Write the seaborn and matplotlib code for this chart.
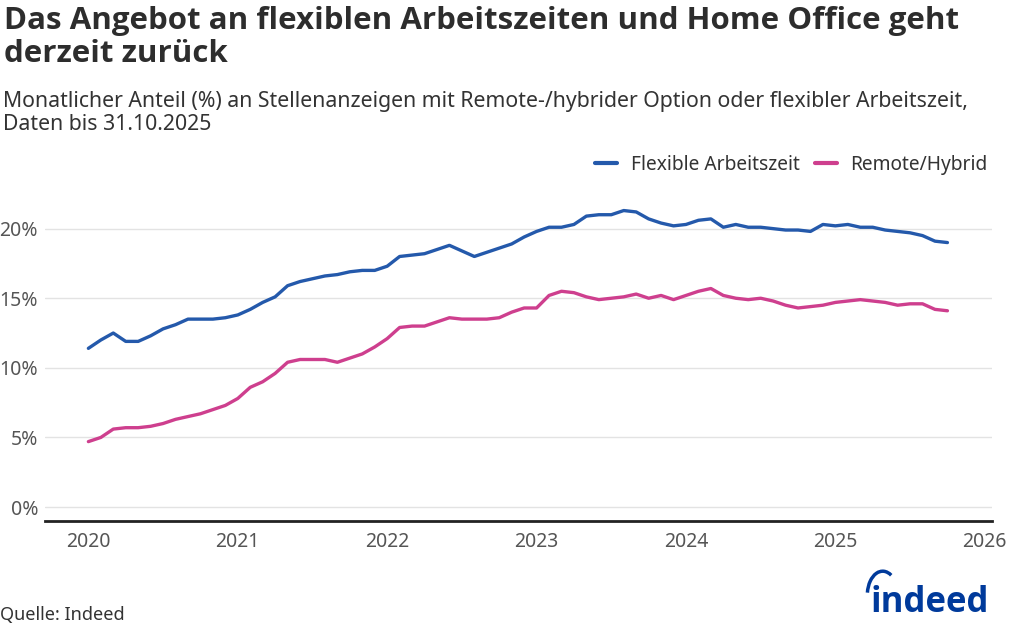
import numpy as np
import pandas as pd
import matplotlib
matplotlib.use("Agg")
import matplotlib.pyplot as plt
from matplotlib.patches import Arc
import seaborn as sns

# monthly values, Jan 2020 - Oct 2025
flexible = [11.4, 12.0, 12.5, 11.9, 11.9, 12.3, 12.8, 13.1, 13.5, 13.5, 13.5, 13.6,
            13.8, 14.2, 14.7, 15.1, 15.9, 16.2, 16.4, 16.6, 16.7, 16.9, 17.0, 17.0,
            17.3, 18.0, 18.1, 18.2, 18.5, 18.8, 18.4, 18.0, 18.3, 18.6, 18.9, 19.4,
            19.8, 20.1, 20.1, 20.3, 20.9, 21.0, 21.0, 21.3, 21.2, 20.7, 20.4, 20.2,
            20.3, 20.6, 20.7, 20.1, 20.3, 20.1, 20.1, 20.0, 19.9, 19.9, 19.8, 20.3,
            20.2, 20.3, 20.1, 20.1, 19.9, 19.8, 19.7, 19.5, 19.1, 19.0]
remote = [4.7, 5.0, 5.6, 5.7, 5.7, 5.8, 6.0, 6.3, 6.5, 6.7, 7.0, 7.3,
          7.8, 8.6, 9.0, 9.6, 10.4, 10.6, 10.6, 10.6, 10.4, 10.7, 11.0, 11.5,
          12.1, 12.9, 13.0, 13.0, 13.3, 13.6, 13.5, 13.5, 13.5, 13.6, 14.0, 14.3,
          14.3, 15.2, 15.5, 15.4, 15.1, 14.9, 15.0, 15.1, 15.3, 15.0, 15.2, 14.9,
          15.2, 15.5, 15.7, 15.2, 15.0, 14.9, 15.0, 14.8, 14.5, 14.3, 14.4, 14.5,
          14.7, 14.8, 14.9, 14.8, 14.7, 14.5, 14.6, 14.6, 14.2, 14.1]
series_names = ["Flexible Arbeitszeit", "Remote/Hybrid"]
year_ticks = [2020, 2021, 2022, 2023, 2024, 2025, 2026]
pct_ticks = [0, 5, 10, 15, 20]

months = 2020 + np.arange(len(flexible)) / 12
df = pd.DataFrame({
    "date": np.concatenate([months, months]),
    "value": flexible + remote,
    "series": [series_names[0]] * len(flexible) + [series_names[1]] * len(remote),
})

sns.set_theme(style="whitegrid")
plt.rcParams["font.family"] = ["Noto Sans", "DejaVu Sans"]

fig = plt.figure(figsize=(10.24, 6.4), dpi=100)
ax = fig.add_axes([0.044, 0.186, 0.925, 0.522])

palette = {series_names[0]: "#2459AB", series_names[1]: "#CE3F8E"}
sns.lineplot(data=df, x="date", y="value", hue="series", palette=palette,
             linewidth=2.4, ax=ax)

ax.set_xlim(2019.71, 2026.05)
ax.set_ylim(-1, 23)
ax.set_xticks(year_ticks)
ax.set_xticklabels([str(y) for y in year_ticks])
ax.set_yticks(pct_ticks)
ax.set_yticklabels([f"{p}%" for p in pct_ticks])
ax.set_xlabel("")
ax.set_ylabel("")
ax.grid(axis="x", visible=False)
ax.grid(axis="y", color="#e3e3e3", linewidth=1)
for s in ["top", "right", "left"]:
    ax.spines[s].set_visible(False)
ax.spines["bottom"].set_color("#222222")
ax.spines["bottom"].set_linewidth(2)
ax.tick_params(axis="both", labelsize=14, colors="#555555", length=0)
ax.tick_params(axis="x", pad=8)
ax.tick_params(axis="y", pad=5)

leg = ax.legend(loc="lower right", bbox_to_anchor=(1.003, 1.014), ncol=2, frameon=False,
                fontsize=13.8, handlelength=1.15, columnspacing=0.8, handletextpad=0.7,
                borderaxespad=0)
for t in leg.get_texts():
    t.set_color("#333333")
for l in leg.get_lines():
    l.set_linewidth(3)

fig.text(0.004, 0.99, "Das Angebot an flexiblen Arbeitszeiten und Home Office geht\nderzeit zurück",
         fontsize=22.5, fontweight="bold", family=["Open Sans", "DejaVu Sans"],
         color="#2d2d2d", va="top", ha="left", linespacing=1.12)
fig.text(0.003, 0.858, "Monatlicher Anteil (%) an Stellenanzeigen mit Remote-/hybrider Option oder flexibler Arbeitszeit,\nDaten bis 31.10.2025",
         fontsize=15.3, color="#333333", va="top", ha="left", linespacing=1.12)
fig.text(0.0, 0.025, "Quelle: Indeed", fontsize=13, color="#333333", va="bottom", ha="left")
fig.text(0.966, 0.03, "indeed", fontsize=25, fontweight="bold", family=["Open Sans", "DejaVu Sans"],
         color="#003A9B", va="bottom", ha="right")
fig.add_artist(Arc((0.862, 0.07), 0.03, 0.075, theta1=75, theta2=165,
                   transform=fig.transFigure, color="#003A9B", linewidth=2.5))

plt.savefig("out.png", dpi=100)
